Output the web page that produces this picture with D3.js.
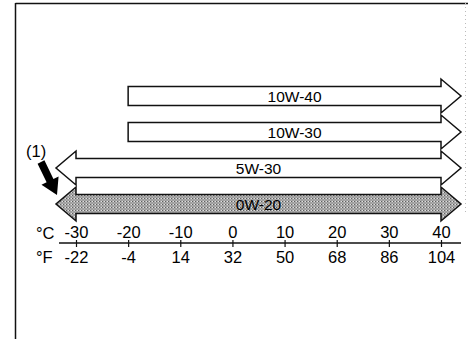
<!DOCTYPE html>
<html>
<head>
<meta charset="utf-8">
<script src="https://cdn.jsdelivr.net/npm/d3@7"></script>
<style>
  body {margin:0; background:#fff}
  svg {display:block; font-family:"Liberation Sans", Arial, sans-serif}
</style>
</head>
<body>
<svg width="468" height="339"></svg>
<script>
/*** Data ***/
const grades   = ["10W-40", "10W-30", "5W-30", "0W-20"]
const minTemp  = [-20, -20, -30, -30]      // °C, left end of each band
const maxTemp  = [40, 40, 40, 40]          // °C, right end
const openLeft = [false, false, true, true]
const openRight= [true, true, true, true]
const shaded   = [false, false, false, true]
const celsius  = [-30, -20, -10, 0, 10, 20, 30, 40]
const fahr     = ["-22", "-4", "14", "32", "50", "68", "86", "104"]

/*** Setup ***/
const BODY = 9.5, HEAD = 17, HLEN = 20
const FONT = "Liberation Sans, Arial, sans-serif"
var svg = d3.select("svg")
var x = d3.scaleLinear().domain([-30, 40]).range([76, 441])
var y = d3.scaleBand().domain(grades).range([78, 222]).padding(0)

// halftone fill for the recommended grade
var defs = svg.append("defs")
var pat = defs.append("pattern").attr("id", "dots")
              .attr("width", 3).attr("height", 3)
              .attr("patternUnits", "userSpaceOnUse")
pat.append("rect").attr("width", 3).attr("height", 3).attr("fill", "#acacac")
pat.append("rect").attr("x", 0).attr("y", 0).attr("width", 1).attr("height", 1).attr("fill", "#606060")
pat.append("rect").attr("x", 1.5).attr("y", 1.5).attr("width", 1).attr("height", 1).attr("fill", "#7c7c7c")
pat.append("rect").attr("x", 2).attr("y", 0).attr("width", 1).attr("height", 1).attr("fill", "#e0e0e0")

// frame
svg.append("line").attr("x1", 15.5).attr("y1", 3.5).attr("x2", 468).attr("y2", 3.5)
   .attr("stroke", "#111").attr("stroke-width", 1.5)
svg.append("line").attr("x1", 15.5).attr("y1", 3).attr("x2", 15.5).attr("y2", 339)
   .attr("stroke", "#111").attr("stroke-width", 1.5)
svg.append("line").attr("x1", 465.5).attr("y1", 3).attr("x2", 465.5).attr("y2", 215)
   .attr("stroke", "#bbb").attr("stroke-width", 1).attr("stroke-dasharray", "1,3")

function arrowPath(i) {
  var cy = y(grades[i]) + y.bandwidth() / 2
  var x0 = x(minTemp[i]), x1 = x(maxTemp[i])
  var p = d3.path()
  p.moveTo(x0, cy - BODY)
  p.lineTo(x1, cy - BODY)
  if (openRight[i]) {
    p.lineTo(x1, cy - HEAD); p.lineTo(x1 + HLEN, cy); p.lineTo(x1, cy + HEAD)
  } else {
    p.lineTo(x1, cy)
  }
  p.lineTo(x1, cy + BODY)
  p.lineTo(x0, cy + BODY)
  if (openLeft[i]) {
    p.lineTo(x0, cy + HEAD); p.lineTo(x0 - HLEN, cy); p.lineTo(x0, cy - HEAD)
  }
  p.closePath()
  return p.toString()
}

var band = svg.append("g").selectAll("g").data(grades).enter().append("g")
band.append("path")
    .attr("d", (d, i) => arrowPath(i))
    .attr("fill", (d, i) => shaded[i] ? "url(#dots)" : "#fff")
    .attr("stroke", "#111").attr("stroke-width", 1.5)
    .attr("stroke-linejoin", "miter")
band.append("text")
    .attr("x", (d, i) => {
      var a = x(minTemp[i]) - (openLeft[i] ? HLEN : 0)
      var b = x(maxTemp[i]) + (openRight[i] ? HLEN : 0)
      return (a + b) / 2
    })
    .attr("y", d => y(d) + y.bandwidth() / 2 + 5.5)
    .attr("text-anchor", "middle")
    .attr("font-size", 15.5)
    .attr("font-family", FONT)
    .attr("fill", "#000")
    .text(d => d)

/*** Axis ***/
const AXY = 243
svg.append("g").attr("transform", "translate(0," + AXY + ")")
   .call(d3.axisTop(x).tickValues(celsius).tickSize(3).tickPadding(2).tickFormat(d => String(d)))
svg.append("g").attr("transform", "translate(0," + AXY + ")")
   .call(d3.axisBottom(x).tickValues(celsius).tickSize(4).tickPadding(4.6).tickFormat((d, i) => fahr[i]))
svg.selectAll(".domain").remove()
svg.selectAll(".tick text").attr("font-size", 16.5).attr("font-family", FONT).attr("fill", "#000")
svg.selectAll(".tick line").attr("stroke", "#111").attr("stroke-width", 1.2)
svg.append("line").attr("x1", 59).attr("x2", 461).attr("y1", AXY).attr("y2", AXY)
   .attr("stroke", "#111").attr("stroke-width", 1.5)

svg.append("text").attr("x", 36).attr("y", 238.5).attr("font-size", 16.5).attr("font-family", FONT).attr("fill", "#000").text("°C")
svg.append("text").attr("x", 36).attr("y", 263).attr("font-size", 16.5).attr("font-family", FONT).attr("fill", "#000").text("°F")

/*** Callout (1) ***/
svg.append("text").attr("x", 26).attr("y", 157).attr("font-size", 16.5).attr("font-family", FONT).attr("fill", "#000").text("(1)")
;(function () {
  var sx = 41, sy = 162, ex = 57, ey = 195
  var ang = Math.atan2(ey - sy, ex - sx), len = Math.hypot(ex - sx, ey - sy)
  var sw = 3.8, hw = 9.5, hl = 16
  var pts = [[0, -sw], [len - hl, -sw], [len - hl, -hw], [len, 0], [len - hl, hw], [len - hl, sw], [0, sw]]
  svg.append("polygon")
     .attr("points", pts.map(p => p.join(",")).join(" "))
     .attr("transform", "translate(" + sx + "," + sy + ") rotate(" + (ang * 180 / Math.PI) + ")")
     .attr("fill", "#000")
})()
</script>
</body>
</html>
